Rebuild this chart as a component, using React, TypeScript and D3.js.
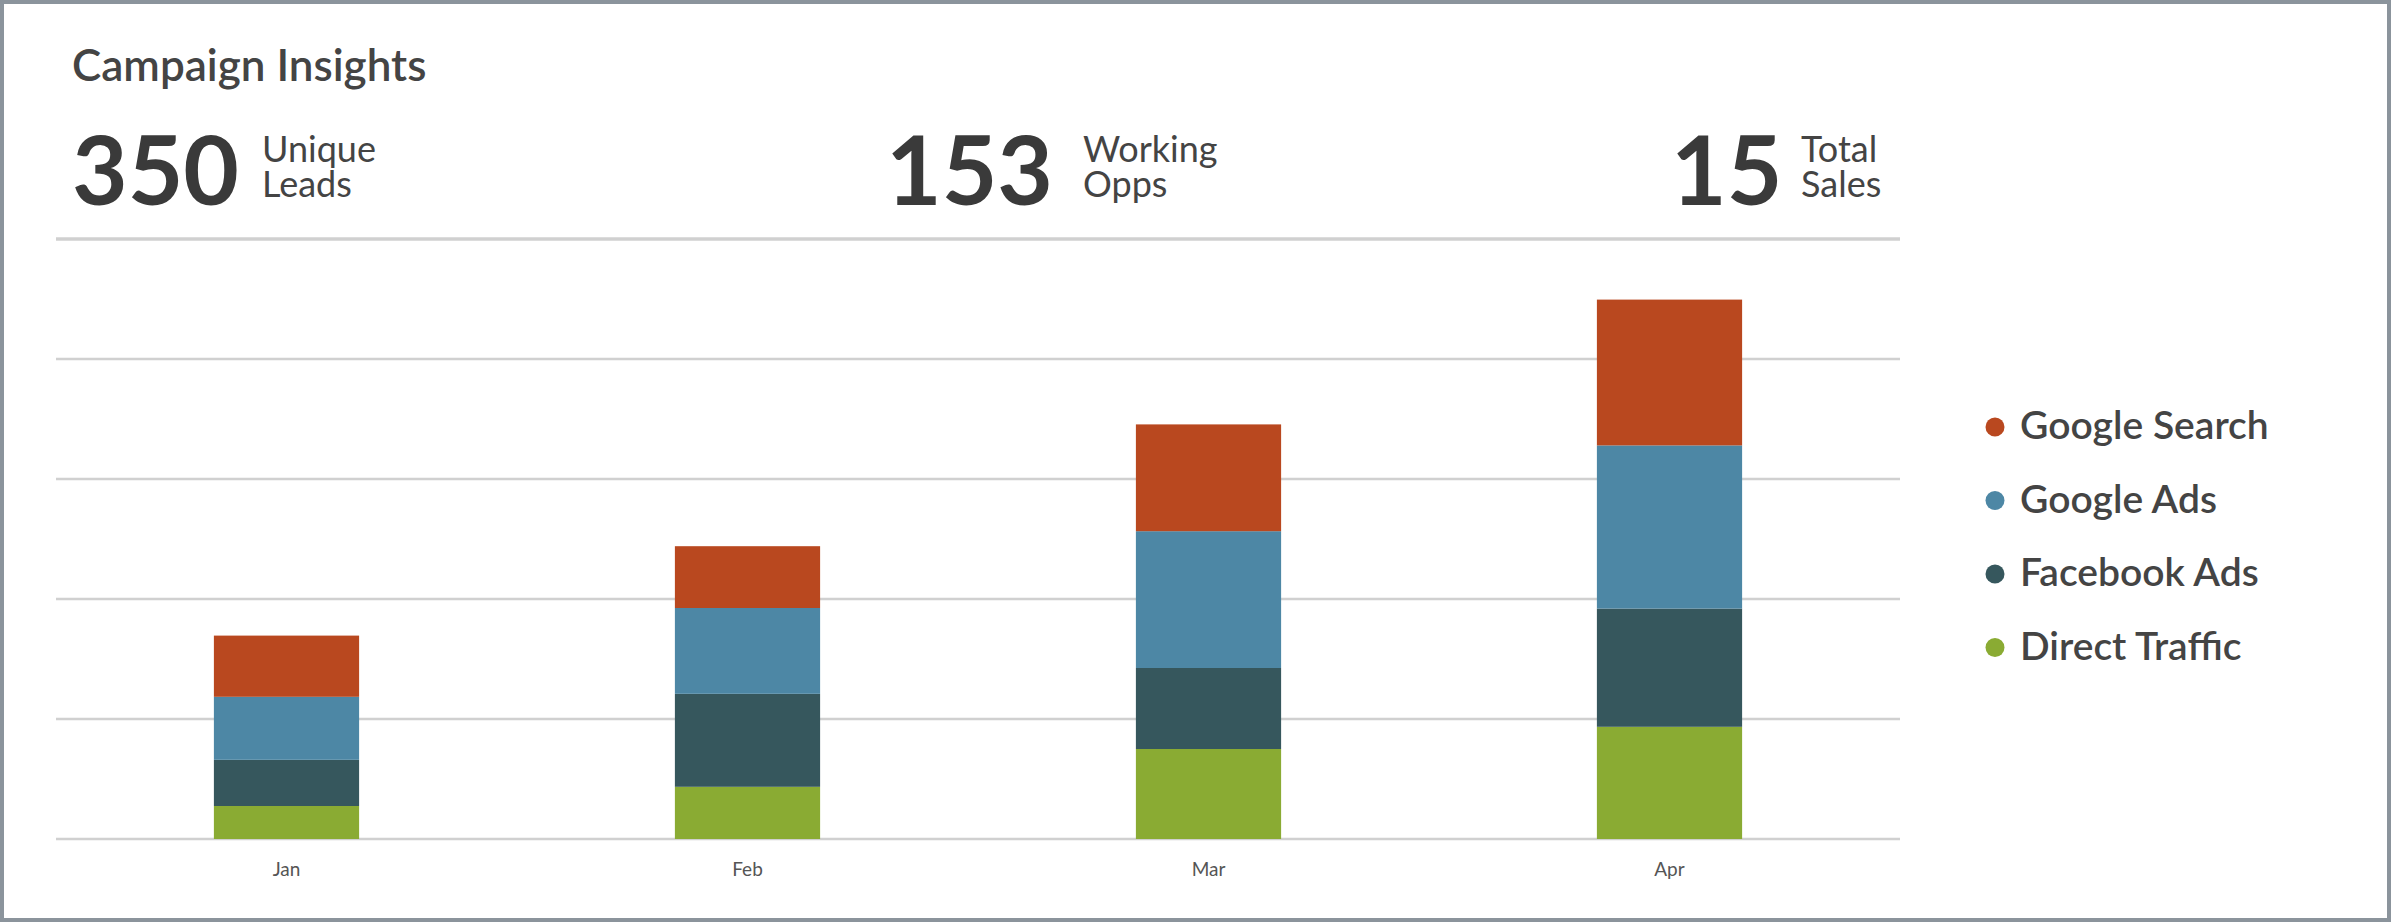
import React from "react";
import * as d3 from "d3";

const months = ["Jan", "Feb", "Mar", "Apr"];
const seriesNames = ["Direct Traffic", "Facebook Ads", "Google Ads", "Google Search"];
const seriesColors = ["#8aab33", "#36575d", "#4d87a5", "#b9481f"];
const directTraffic = [5.5, 8.7, 15.0, 18.7];
const facebookAds = [7.7, 15.5, 13.5, 19.7];
const googleAds = [10.5, 14.3, 22.8, 27.2];
const googleSearch = [10.2, 10.3, 17.8, 24.3];
const yTicks = [0, 20, 40, 60, 80, 100];
const legendOrder = ["Google Search", "Google Ads", "Facebook Ads", "Direct Traffic"];
const kpiValues = ["350", "153", "15"];
const kpiLabels = [["Unique", "Leads"], ["Working", "Opps"], ["Total", "Sales"]];
const title = "Campaign Insights";

const W = 2391;
const H = 922;
const FONT = "Lato, 'Open Sans', sans-serif";

export default function App() {
  const rows = months.map((m, i) => ({
    month: m,
    "Direct Traffic": directTraffic[i],
    "Facebook Ads": facebookAds[i],
    "Google Ads": googleAds[i],
    "Google Search": googleSearch[i],
  }));
  const stack = d3.stack<any>().keys(seriesNames)(rows);
  const x = d3
    .scaleBand<string>()
    .domain(months)
    .range([56, 1900])
    .paddingInner(0.685)
    .paddingOuter(0.3425);
  const y = d3.scaleLinear().domain([0, 100]).range([839, 239]);
  const color = d3.scaleOrdinal<string, string>().domain(seriesNames).range(seriesColors);

  const kpiPos = [
    { nx: 72, lx: 262 },
    { nx: 886, lx: 1083 },
    { nx: 1671, lx: 1801 },
  ];

  return (
    <svg
      width={W}
      height={H}
      style={{ position: "absolute", left: 0, top: 0, background: "#fff" }}
      fontFamily={FONT}
    >
      <rect x={2} y={2} width={W - 4} height={H - 4} fill="#fff" stroke="#8b949c" strokeWidth={4} />
      <text x={72} y={81} fontSize={44} fontWeight={600} fill="#444">
        {title}
      </text>
      {kpiValues.map((v, i) => (
        <g key={v}>
          <text x={kpiPos[i].nx} y={205} fontSize={96} fontWeight={700} fill="#3a3a3a">
            {v}
          </text>
          <text x={kpiPos[i].lx} y={162} fontSize={36} fill="#444">
            {kpiLabels[i][0]}
            <tspan x={kpiPos[i].lx} dy={35}>
              {kpiLabels[i][1]}
            </tspan>
          </text>
        </g>
      ))}
      {yTicks.map((t) => (
        <line
          key={t}
          x1={56}
          x2={1900}
          y1={y(t)}
          y2={y(t)}
          stroke="#d0d0d0"
          strokeWidth={t === 100 ? 3.5 : 2.5}
        />
      ))}
      {stack.map((s) => (
        <g key={s.key} fill={color(s.key)}>
          {s.map((d, i) => (
            <rect
              key={i}
              x={x(months[i])}
              width={x.bandwidth()}
              y={y(d[1])}
              height={y(d[0]) - y(d[1])}
            />
          ))}
        </g>
      ))}
      {months.map((m) => (
        <text
          key={m}
          x={(x(m) as number) + x.bandwidth() / 2}
          y={876}
          fontSize={19}
          textAnchor="middle"
          fill="#555"
        >
          {m}
        </text>
      ))}
      {legendOrder.map((name, i) => (
        <g key={name} transform={`translate(1995, ${427 + i * 73.5})`}>
          <circle r={9.5} fill={color(name)} />
          <text x={25} y={12} fontSize={39} fontWeight={600} fill="#444">
            {name}
          </text>
        </g>
      ))}
    </svg>
  );
}
